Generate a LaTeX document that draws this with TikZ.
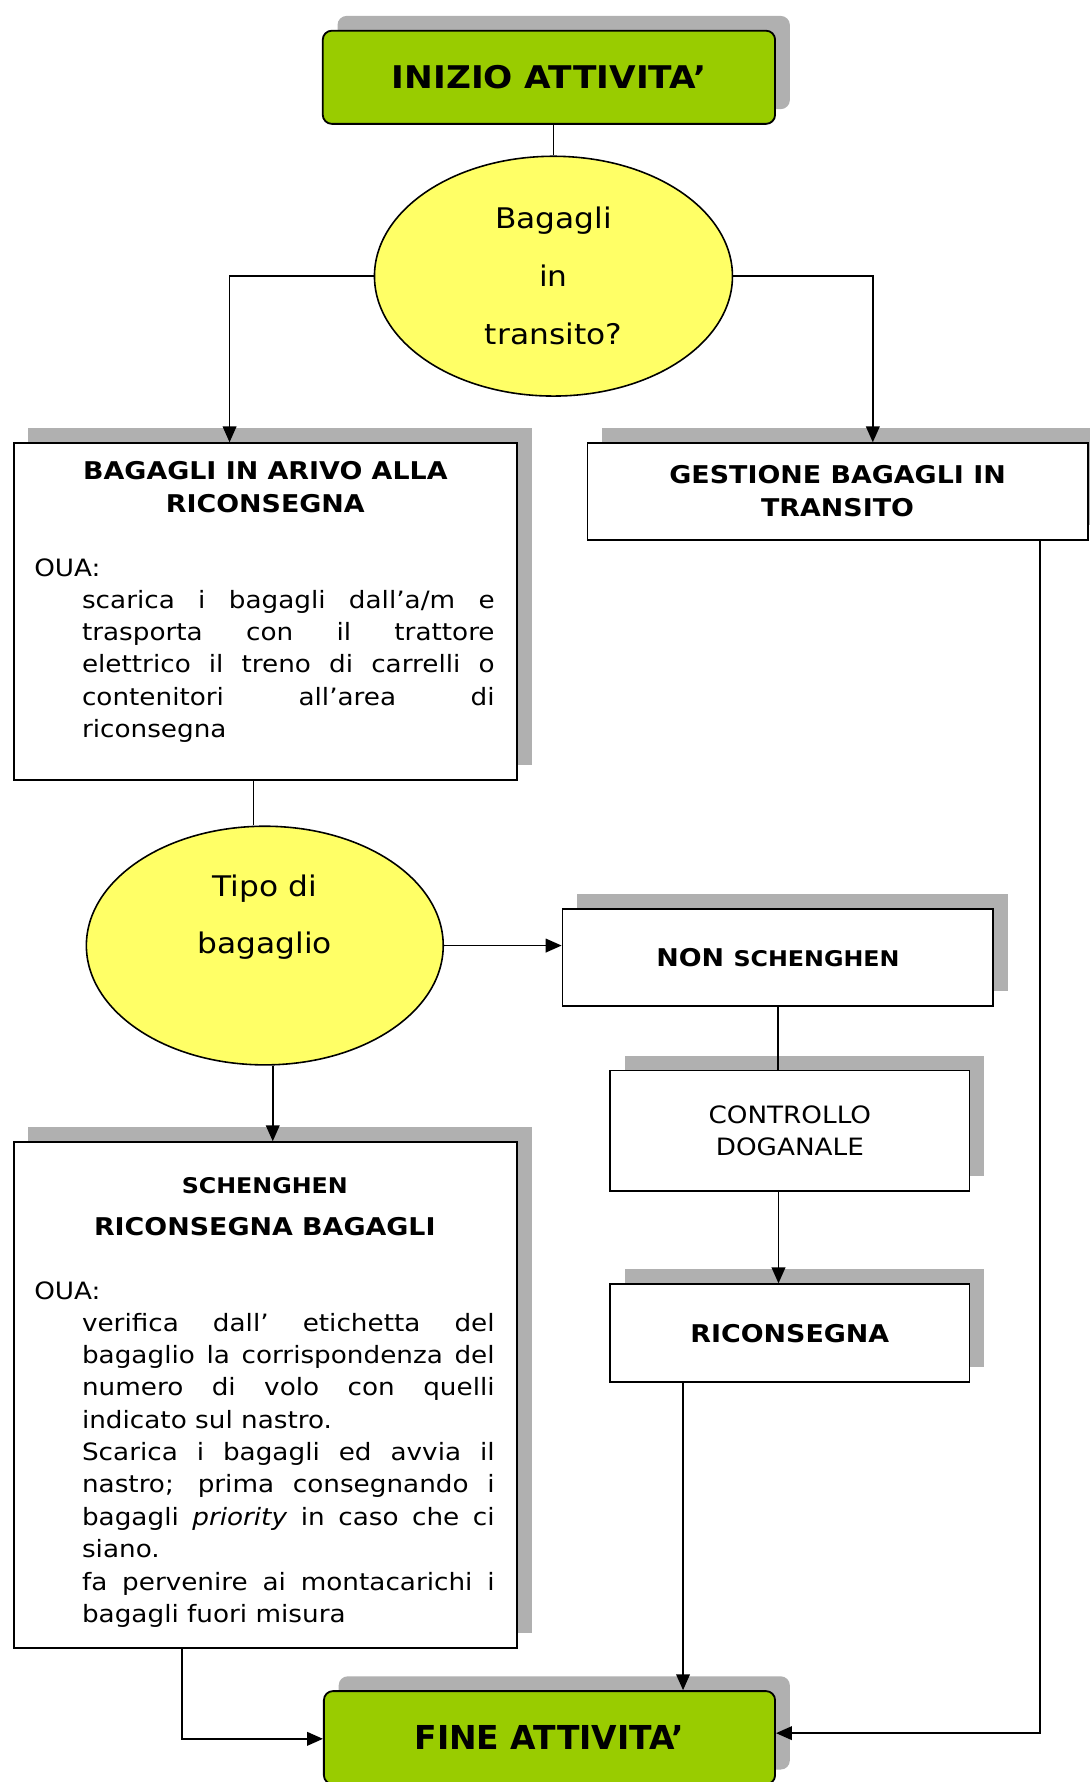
\documentclass[tikz,border=0pt]{standalone}
\usepackage{fontspec}
\setmainfont{DejaVu Sans}[FakeStretch=1.1]
\newfontfamily\plainsans{DejaVu Sans}
\usetikzlibrary{shapes.geometric,arrows.meta,shadows}

\definecolor{startgreen}{HTML}{99CC00}
\definecolor{askyellow}{HTML}{FFFF66}
\definecolor{shadowgray}{HTML}{B0B0B0}

\tikzset{
  boxshadow/.style={general shadow={fill=shadowgray, shadow xshift=13pt, shadow yshift=13pt}},
  termbox/.style={draw=black, line width=1.6pt, fill=startgreen, rounded corners=8pt,
    inner sep=0pt, boxshadow},
  procbox/.style={draw=black, line width=1.6pt, fill=white, inner sep=0pt, boxshadow,
    align=center, font=\fontsize{21.5}{29}\selectfont\bfseries},
  decision/.style={ellipse, draw=black, line width=1.4pt, fill=askyellow, inner sep=0pt,
    align=center, font=\fontsize{25}{51}\selectfont},
  headtext/.style={inner sep=0pt, align=center, font=\fontsize{21.5}{29}\selectfont\bfseries},
  plaintext/.style={inner sep=0pt, font=\fontsize{21}{28.5}\selectfont},
  bodytext/.style={anchor=north west, inner sep=0pt, text width=363pt, align=justify,
    font=\fontsize{21}{28.5}\selectfont},
  conn/.style={line width=1.5pt, draw=black},
  arr/.style={conn, -{Triangle[length=14pt,width=12pt]}},
}

\begin{document}
\begin{tikzpicture}[x=1pt, y=-1pt]
\useasboundingbox (0,0) rectangle (959,1568);
\clip (0,0) rectangle (959,1568);
\fill[white] (0,0) rectangle (959,1568);

% start and end of the activity
\node[termbox, minimum width=398pt, minimum height=82pt,
      font=\fontsize{27.5}{32}\selectfont\bfseries] (inizio) at (483,68) {INIZIO ATTIVITA’};
\node[termbox, minimum width=397pt, minimum height=82pt,
      font=\plainsans\fontsize{29}{34}\selectfont\bfseries] (fine) at (483.5,1529) {FINE ATTIVITA’};

% first decision
\node[decision, minimum width=315pt, minimum height=211pt] (q1) at (487,243)
  {Bagagli\\in\\transito?};

% arriving baggage
\node[procbox, minimum width=443pt, minimum height=296pt] (arrivo) at (233.5,538) {};
\node[headtext] (arrivohead) at (233.5,428.5) {BAGAGLI IN ARIVO ALLA\\RICONSEGNA};
\node[plaintext, anchor=west] (arrivooua) at (30,500) {OUA:};
\node[bodytext] (arrivobody) at (72,519) {\setlength\parindent{0pt}\tolerance=10000\hyphenpenalty=10000
  scarica i bagagli dall’a/m e\linebreak
  trasporta con il trattore\linebreak
  elettrico il treno di carrelli o\linebreak
  contenitori all’area di\linebreak
  riconsegna};

% transit baggage
\node[procbox, minimum width=440pt, minimum height=85pt] (gestione) at (737,432.5)
  {GESTIONE BAGAGLI IN\\TRANSITO};

% second decision
\node[decision, minimum width=314pt, minimum height=210pt] (q2) at (233,832) {};
\node[inner sep=0pt, align=center, font=\fontsize{25}{51}\selectfont] (q2text) at (233,807)
  {Tipo di\\bagaglio};

% non-Schengen branch
\node[procbox, minimum width=379pt, minimum height=85pt] (nonsch) at (684.5,842.5)
  {NON {\fontsize{19}{24}\selectfont SCHENGHEN}};
\node[procbox, minimum width=316pt, minimum height=106pt,
      font=\fontsize{21}{29}\selectfont] (controllo) at (695,995) {CONTROLLO\\DOGANALE};
\node[procbox, minimum width=316pt, minimum height=86pt] (ricons) at (695,1173) {RICONSEGNA};

% Schengen branch
\node[procbox, minimum width=443pt, minimum height=445pt] (schen) at (233.5,1227.5) {};
\node[headtext, font=\fontsize{19}{24}\selectfont\bfseries] (schenhead) at (233,1043) {SCHENGHEN};
\node[headtext] (schenhead2) at (233,1079) {RICONSEGNA BAGAGLI};
\node[plaintext, anchor=west] (schenoua) at (30,1136) {OUA:};
\node[bodytext] (schenbody) at (72,1155) {\setlength\parindent{0pt}\tolerance=10000\hyphenpenalty=10000
  verifica dall’ etichetta del\linebreak
  bagaglio la corrispondenza del\linebreak
  numero di volo con quelli\linebreak
  indicato sul nastro.\par
  Scarica i bagagli ed avvia il\linebreak
  nastro; prima consegnando i\linebreak
  bagagli \emph{priority} in caso che ci\linebreak
  siano.\par
  fa pervenire ai montacarichi i\linebreak
  bagagli fuori misura};

% connectors
\draw[conn] (q1.north |- inizio.south) -- (q1.north);
\draw[arr] (q1.west) -| ([xshift=-31.5pt]arrivo.north);
\draw[arr] (q1.east) -| ([xshift=31pt]gestione.north);
\draw[conn] ([xshift=-10.5pt]arrivo.south) -- ([xshift=-10pt]q2.north);
\draw[arr] (q2.east) -- (q2.east -| nonsch.west);
\draw[arr] ([xshift=7pt]q2.south) -- ([xshift=6.5pt]schen.north);
\draw[conn] (nonsch.south) -- (nonsch.south |- controllo.north);
\draw[arr] ([xshift=-10pt]controllo.south) -- ([xshift=-10pt]ricons.north);
\draw[arr] ([xshift=-94pt]ricons.south) -- ([xshift=-94pt]ricons.south |- fine.north);
\draw[arr] ([xshift=178pt]gestione.south) |- ([yshift=4pt]fine.east);
\draw[arr] ([xshift=-73.5pt]schen.south) |- ([yshift=-1pt]fine.west);
\end{tikzpicture}
\end{document}
